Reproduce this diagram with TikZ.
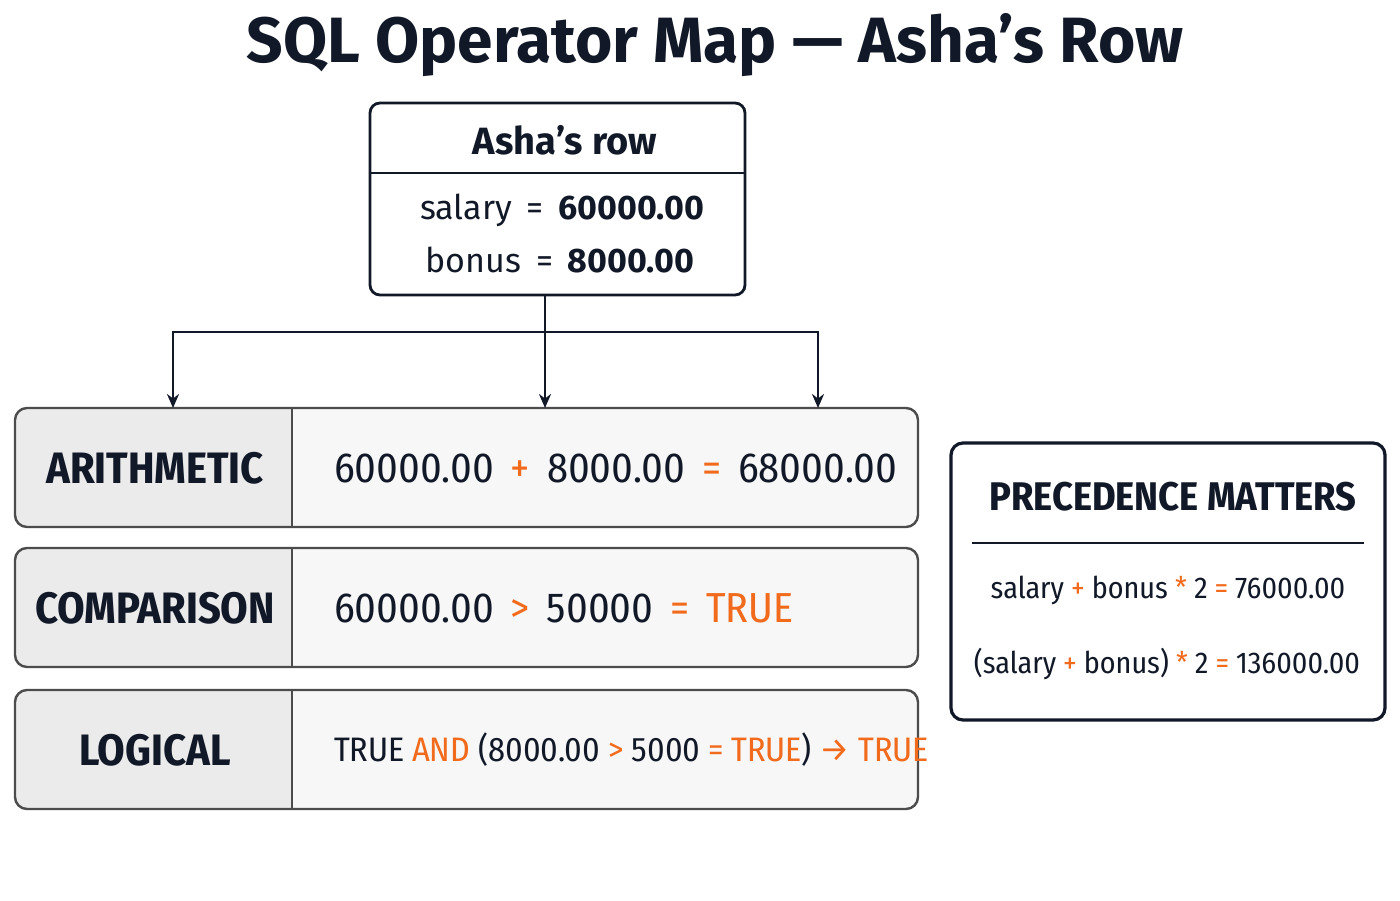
\documentclass[tikz,border=0pt]{standalone}
\usepackage{fontspec}
\setmainfont{Fira Sans}
\newfontfamily\condfont{Fira Sans Condensed}
\usetikzlibrary{positioning,arrows.meta}
\definecolor{oporange}{HTML}{F26A1B}
\definecolor{inkblue}{HTML}{111827}
\definecolor{cellgray}{HTML}{EBEBEB}
\definecolor{cellpale}{HTML}{F7F7F7}
\tikzset{flow/.style={-{Stealth[length=7pt,width=6pt]}}}
\newcommand\op[1]{\textcolor{oporange}{#1}}
\newcommand\apos{{\char"0027}}
% one operator row: name, top y, label, content
\newcommand\oprow[4]{%
  \begin{scope}
    \clip[rounded corners=6pt] (15,#2) rectangle (918,#2+119);
    \fill[cellpale] (15,#2) rectangle (918,#2+119);
    \fill[cellgray] (15,#2) rectangle (292,#2+119);
  \end{scope}
  \draw[line width=1.2pt, rounded corners=6pt, black!70] (15,#2) rectangle (918,#2+119);
  \draw[line width=1.2pt, black!70] (292,#2) -- (292,#2+119);
  \coordinate (#1) at (466,#2);
  \node[font=\fontsize{22}{26}\selectfont\bfseries\condfont] (#1label) at (155,#2+60) {#3};
  \node[anchor=west, font=\fontsize{21}{24}\selectfont\condfont] (#1text) at (326,#2+60) {#4};
}
\begin{document}
\begin{tikzpicture}[x=0.5pt, y=-0.5pt, color=inkblue, line width=1.4pt]
  \useasboundingbox (0,0) rectangle (1400,900);
  \fill[white] (0,0) rectangle (1400,900);

  \node[font=\fontsize{32}{36}\selectfont\bfseries] (title) at (715,45) {SQL Operator Map — Asha\apos s Row};

  % source row
  \draw[rounded corners=5pt] (370,103) rectangle (745,295);
  \draw (370,173) -- (745,173);
  \node (asha) at (557.5,199) [minimum width=187.5pt, minimum height=96pt] {};
  \node[font=\fontsize{19}{22}\selectfont\bfseries] (ashatitle) at (565,140) {Asha\apos s row};
  \node[font=\fontsize{17}{20}\selectfont] (salary) at (562,210) {salary \,=\, \textbf{60000.00}};
  \node[font=\fontsize{17}{20}\selectfont] (bonus) at (560,260) {bonus \,=\, \textbf{8000.00}};

  % operator rows
  \oprow{arith}{408}{ARITHMETIC}{60000.00 \,\op{+}\, 8000.00 \,\op{=}\, 68000.00}
  \oprow{comp}{548}{COMPARISON}{60000.00 \,\op{>}\, 50000 \,\op{=}\, \op{TRUE}}
  \oprow{logic}{690}{LOGICAL}{\fontsize{17}{20}\selectfont TRUE \op{AND} (8000.00 \op{>} 5000 \op{=} \op{TRUE}) \op{→} \op{TRUE}}

  % branches
  \coordinate (split) at (545,332);
  \coordinate (leftdrop) at (173,408);
  \coordinate (rightdrop) at (818,408);
  \draw (asha.south -| split) -- (split);
  \draw[flow] (split) -- (split |- arith);
  \draw[flow] (split) -| (leftdrop);
  \draw[flow] (split) -| (rightdrop);

  % precedence box
  \draw[line width=1.6pt, rounded corners=6pt] (951,443) rectangle (1385,720);
  \node[font=\fontsize{20}{24}\selectfont\bfseries\condfont] (prectitle) at (1173,497) {PRECEDENCE MATTERS};
  \draw[line width=0.8pt] (972,543) -- (1364,543);
  \node[font=\fontsize{15}{20}\selectfont\condfont] (prec1) at (1168,590) {salary \op{+} bonus \op{*} 2 \op{=} 76000.00};
  \node[font=\fontsize{15}{20}\selectfont\condfont] (prec2) at (1167,664) {(salary \op{+} bonus) \op{*} 2 \op{=} 136000.00};
\end{tikzpicture}
\end{document}
